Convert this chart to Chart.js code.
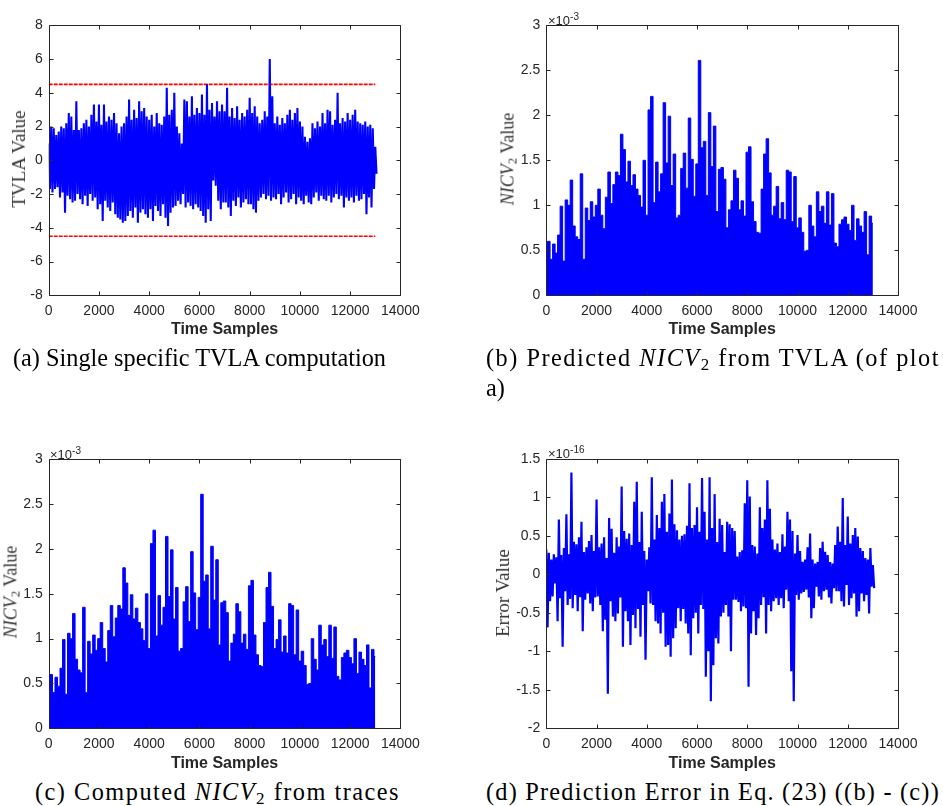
<!DOCTYPE html>
<html>
<head>
<meta charset="utf-8">
<script src="https://cdn.jsdelivr.net/npm/chart.js@4.4.1/dist/chart.umd.min.js"></script>
<style>
  body { margin: 0; background: #fff; width: 943px; height: 806px; position: relative; overflow: hidden; }
  canvas { position: absolute; }
  .ylab { position: absolute; transform: translate(-50%, -50%) rotate(-90deg); white-space: nowrap;
          font-family: 'Liberation Serif', serif; font-size: 19px; color: #333; }
  .mult { position: absolute; font-family: 'Liberation Sans', Arial, sans-serif; font-size: 13px; color: #262626; line-height: 13px; }
  .mult sup { font-size: 10px; vertical-align: 5px; }
  .cap { position: absolute; font-family: 'Liberation Serif', serif; font-size: 24.3px; line-height: 24px; color: #000; white-space: nowrap; }
  sub { font-size: 0.7em; vertical-align: -0.25em; line-height: 0; }
</style>
</head>
<body>
<canvas id="chartA" style="left:0px;top:0px;width:420px;height:345px" width="420" height="345"></canvas>
<canvas id="chartB" style="left:470px;top:0px;width:473px;height:345px" width="473" height="345"></canvas>
<canvas id="chartC" style="left:0px;top:430px;width:420px;height:345px" width="420" height="345"></canvas>
<canvas id="chartD" style="left:470px;top:430px;width:473px;height:345px" width="473" height="345"></canvas>

<div class="ylab" style="left:19px;top:159px">TVLA Value</div>
<div class="ylab" style="left:508px;top:159px;font-size:18px"><i>NICV</i><sub>2</sub> Value</div>
<div class="ylab" style="left:11px;top:592px;font-size:18px"><i>NICV</i><sub>2</sub> Value</div>
<div class="ylab" style="left:503px;top:593px">Error Value</div>

<div class="mult" style="left:548px;top:10px">×10<sup>-3</sup></div>
<div class="mult" style="left:50px;top:444px">×10<sup>-3</sup></div>
<div class="mult" style="left:548px;top:443px">×10<sup>-16</sup></div>

<div class="cap" data-w="373" style="left:13px;top:346px">(a) Single specific TVLA computation</div>
<div class="cap" data-w="454" style="left:486px;top:346px">(b) Predicted <i>NICV</i><sub>2</sub> from TVLA (of plot</div>
<div class="cap" style="left:486px;top:376px">a)</div>
<div class="cap" data-w="365" style="left:35px;top:780px">(c) Computed <i>NICV</i><sub>2</sub> from traces</div>
<div class="cap" data-w="454" style="left:486px;top:780px">(d) Prediction Error in Eq. (23) ((b) - (c))</div>

<script>
// one value every 100 time samples, 0 .. 13000
const SAMPLE_STEP = 100;

// (a) TVLA value: local peaks and troughs of the trace
const tvlaUpper = [
  1.0, 2.0, 1.9, 1.5, 1.7, 2.0, 1.9, 2.2, 2.8, 2.6,
  1.8, 3.5, 1.8, 1.9, 2.2, 2.4, 2.0, 2.7, 3.3, 2.3,
  3.3, 2.1, 3.3, 2.3, 2.6, 2.4, 2.8, 2.2, 1.6, 2.0,
  2.2, 2.6, 3.6, 2.4, 3.0, 2.5, 3.5, 2.9, 3.1, 2.6,
  2.4, 2.7, 2.0, 2.8, 2.2, 2.1, 2.6, 4.3, 2.7, 3.0,
  4.0, 2.0, 1.6, 1.0, 3.6, 3.5, 2.6, 3.8, 2.7, 3.1,
  2.8, 3.9, 2.7, 4.5, 3.0, 3.4, 2.6, 3.5, 2.9, 3.3,
  2.9, 4.3, 2.6, 3.1, 2.5, 3.2, 2.4, 2.8, 2.6, 3.0,
  3.7, 2.8, 3.2, 2.6, 2.2, 2.4, 2.9, 2.6, 6.0, 3.8,
  2.2, 2.6, 2.1, 2.5, 2.2, 2.7, 3.0, 2.4, 2.8, 3.1,
  2.3, 2.0, 1.4, 1.1, 1.3, 2.2, 1.9, 2.3, 2.0, 2.8,
  2.2, 3.0, 2.9, 2.1, 2.4, 4.0, 2.2, 2.5, 2.3, 2.8,
  2.4, 2.7, 3.0, 2.3, 2.2, 2.1, 2.3, 2.0, 2.1, 1.9, 0.8
];
const tvlaLower = [
  -1.7, -1.9, -1.7, -1.6, -2.2, -1.9, -3.1, -2.1, -2.3, -2.5,
  -2.4, -2.0, -2.3, -2.6, -2.1, -2.7, -2.0, -2.4, -2.2, -2.9,
  -2.6, -3.6, -2.4, -2.8, -3.0, -2.5, -3.2, -3.4, -3.5, -3.7,
  -3.6, -3.3, -3.0, -3.4, -2.8, -3.7, -3.1, -2.9, -3.2, -3.4,
  -2.9, -3.6, -2.7, -3.0, -3.3, -2.6, -3.4, -3.9, -3.1, -2.8,
  -2.7, -2.4, -2.6, -2.0, -2.8, -2.5, -2.7, -2.9, -2.6, -2.8,
  -3.0, -3.3, -3.7, -2.9, -3.6, -1.2, -1.5, -2.4, -2.9, -2.5,
  -2.5, -2.8, -3.3, -2.4, -2.7, -2.2, -2.8, -2.5, -2.3, -2.6,
  -2.6, -2.9, -3.1, -2.4, -2.2, -2.0, -2.3, -2.1, -2.4, -2.2,
  -2.3, -2.0, -2.6, -2.2, -1.9, -2.5, -2.3, -2.0, -2.6, -2.2,
  -2.4, -2.6, -2.1, -2.5, -2.6, -2.2, -1.9, -2.4, -2.1, -2.3,
  -2.4, -2.1, -2.5, -2.2, -2.0, -2.3, -2.1, -2.8, -2.2, -2.4,
  -2.2, -2.5, -2.1, -2.4, -2.3, -2.0, -3.2, -2.2, -2.8, -1.7, -0.8
];
const tvlaThreshold = 4.5;

// (b) and (c) NICV2 value (x10^-3); predicted and computed agree to ~1e-16
const nicvValues = [
  0.58, 0.60, 0.40, 0.57, 0.47, 0.67, 0.99, 0.38, 1.06, 1.00,
  1.28, 0.77, 0.65, 0.62, 1.35, 0.40, 0.97, 0.83, 1.04, 0.87,
  1.00, 1.18, 0.89, 0.74, 1.09, 1.37, 1.02, 1.23, 1.37, 1.33,
  1.79, 1.62, 1.26, 1.49, 1.22, 1.34, 1.18, 1.11, 0.98, 1.50,
  0.89, 2.06, 2.21, 1.03, 1.48, 1.15, 1.35, 2.14, 1.47, 1.99,
  1.22, 1.57, 0.86, 0.89, 1.41, 1.58, 1.19, 1.97, 1.51, 1.10,
  1.46, 2.61, 1.64, 1.71, 1.11, 2.03, 1.43, 1.88, 0.93, 1.40,
  1.42, 1.29, 0.75, 0.95, 1.05, 1.39, 1.30, 0.95, 1.05, 0.88,
  1.59, 1.65, 1.04, 0.82, 0.70, 0.69, 1.18, 1.57, 1.74, 1.36,
  0.89, 0.99, 1.21, 0.85, 1.03, 0.84, 1.39, 1.37, 0.82, 1.32,
  0.75, 0.86, 0.70, 0.49, 0.50, 1.00, 0.77, 0.65, 1.15, 0.93,
  0.99, 0.80, 1.15, 0.78, 1.13, 0.58, 0.54, 0.79, 0.84, 0.87,
  0.79, 0.72, 1.00, 0.61, 0.85, 0.77, 0.70, 0.93, 0.45, 0.88, 0.80
];

// (d) prediction error (x10^-16): local peaks and troughs
const errorUpper = [
  0.32, 0.28, 0.19, 0.26, 0.22, 0.71, 0.25, 0.34, 0.78, 0.26,
  1.32, 0.42, 0.39, 0.48, 0.68, 0.29, 0.35, 0.43, 0.51, 0.30,
  0.97, 0.35, 0.40, 0.48, 0.21, 0.73, 0.59, 0.28, 0.48, 0.36,
  1.14, 0.56, 0.46, 0.53, 0.38, 0.94, 1.20, 0.42, 0.81, 0.30,
  0.19, 0.35, 1.26, 0.45, 0.77, 0.60, 0.94, 1.04, 0.55, 0.79,
  1.23, 0.65, 0.57, 0.45, 0.50, 0.52, 0.63, 1.18, 0.60, 0.64,
  0.87, 0.55, 1.25, 0.81, 0.45, 1.26, 0.60, 1.04, 0.42, 0.72,
  0.64, 0.29, 0.68, 0.65, 0.60, 0.56, 0.23, 0.29, 0.31, 0.92,
  1.22, 1.01, 0.38, 0.36, 0.27, 0.87, 0.60, 0.71, 1.22, 0.85,
  0.45, 0.32, 0.40, 0.29, 0.52, 0.36, 0.81, 0.71, 0.56, 0.27,
  0.51, 0.30, 0.16, 0.19, 0.35, 0.53, 0.19, 0.14, 0.16, 0.34,
  0.42, 0.29, 0.25, 0.16, 0.14, 0.38, 0.62, 0.42, 0.99, 0.38,
  0.75, 0.40, 0.51, 0.60, 0.49, 0.34, 0.30, 0.21, 0.19, 0.34, 0.12
];
const errorLower = [
  -0.69, -0.35, -0.29, -0.12, -0.61, -0.31, -0.94, -0.22, -0.40, -0.32,
  -0.44, -0.27, -0.48, -0.30, -0.74, -0.33, -0.25, -0.38, -0.48, -0.30,
  -0.29, -0.40, -0.74, -0.59, -1.55, -0.35, -0.55, -0.61, -0.51, -0.30,
  -0.94, -0.48, -0.61, -0.92, -0.53, -0.70, -0.45, -0.81, -0.40, -1.11,
  -0.22, -0.38, -0.40, -0.61, -0.64, -0.77, -0.50, -0.94, -0.92, -1.07,
  -0.83, -0.70, -0.44, -0.61, -0.45, -0.64, -0.77, -1.05, -0.57, -0.50,
  -0.77, -0.40, -0.45, -1.33, -1.00, -1.65, -1.18, -0.83, -0.90, -0.55,
  -0.50, -0.40, -0.55, -1.00, -0.33, -0.33, -0.36, -0.48, -0.42, -0.44,
  -1.46, -0.77, -0.48, -0.79, -0.57, -0.40, -0.30, -0.77, -0.40, -0.48,
  -0.35, -0.31, -0.40, -0.31, -0.44, -0.20, -0.35, -1.26, -1.65, -0.27,
  -0.33, -0.25, -0.23, -0.20, -0.30, -0.57, -0.44, -0.16, -0.29, -0.33,
  -0.22, -0.20, -0.30, -0.38, -0.18, -0.22, -0.22, -0.35, -0.42, -0.14,
  -0.40, -0.31, -0.25, -0.55, -0.48, -0.25, -0.35, -0.27, -0.51, -0.16, -0.18
];

const BLUE = '#0000ff';
const AXIS = '#262626';

function series(values) {
  return values.map((v, i) => ({ x: i * SAMPLE_STEP, y: v }));
}

// peak, trough, peak, ... so the dense trace fills in like the original
function zigzag(upper, lower) {
  const pts = [];
  upper.forEach((u, i) => {
    pts.push({ x: i * SAMPLE_STEP, y: u });
    pts.push({ x: i * SAMPLE_STEP + SAMPLE_STEP / 2, y: lower[i] });
  });
  return pts;
}

// MATLAB style box with inward tick marks on all four sides
const boxTicks = {
  id: 'boxTicks',
  afterDraw(chart) {
    const { ctx, chartArea: a, scales: { x, y } } = chart;
    const L = Math.round(a.left) + 0.5, R = Math.round(a.right) + 0.5;
    const T = Math.round(a.top) + 0.5, B = Math.round(a.bottom) + 0.5;
    ctx.save();
    ctx.strokeStyle = AXIS;
    ctx.lineWidth = 1;
    ctx.beginPath();
    x.ticks.forEach(t => {
      const px = Math.round(x.getPixelForValue(t.value)) + 0.5;
      ctx.moveTo(px, B); ctx.lineTo(px, B - 4);
      ctx.moveTo(px, T); ctx.lineTo(px, T + 4);
    });
    y.ticks.forEach(t => {
      const py = Math.round(y.getPixelForValue(t.value)) + 0.5;
      ctx.moveTo(L, py); ctx.lineTo(L + 4, py);
      ctx.moveTo(R, py); ctx.lineTo(R - 4, py);
    });
    ctx.rect(L, T, R - L, B - T);
    ctx.stroke();
    ctx.restore();
  }
};

function makeChart(id, datasets, opt) {
  const canvas = document.getElementById(id);
  const w = canvas.width, h = canvas.height;
  const tickFont = { family: "'Liberation Sans', Arial, sans-serif", size: 14 };
  return new Chart(canvas, {
    type: 'line',
    data: { datasets },
    plugins: [boxTicks],
    options: {
      responsive: false,
      animation: false,
      events: [],
      layout: { padding: { left: 0, top: opt.top, right: w - opt.right, bottom: 0 } },
      elements: { point: { radius: 0 }, line: { tension: 0, borderJoinStyle: 'bevel' } },
      plugins: { legend: { display: false }, tooltip: { enabled: false } },
      scales: {
        x: {
          type: 'linear', min: 0, max: 14000,
          grid: { display: false, drawTicks: false },
          border: { display: false },
          ticks: { stepSize: 2000, padding: 7, color: AXIS, font: tickFont, maxRotation: 0, callback: v => String(v) },
          title: {
            display: true, text: 'Time Samples', color: AXIS,
            font: { family: "'Liberation Sans', Arial, sans-serif", size: 16, weight: 'bold' },
            padding: { top: 0, bottom: opt.titlePad }
          },
          afterFit(s) {
            s.height = h - opt.bottom;
            s.paddingLeft = s.paddingRight = s.paddingTop = s.paddingBottom = 0;
          }
        },
        y: {
          min: opt.yMin, max: opt.yMax,
          grid: { display: false, drawTicks: false },
          border: { display: false },
          ticks: { stepSize: opt.yStep, padding: 6, color: AXIS, font: tickFont, callback: v => String(v) },
          afterFit(s) {
            s.width = opt.left;
            s.paddingLeft = s.paddingRight = s.paddingTop = s.paddingBottom = 0;
          }
        }
      }
    }
  });
}

const lastSample = (tvlaUpper.length - 1) * SAMPLE_STEP;

// (a)
makeChart('chartA', [
  { data: zigzag(tvlaUpper, tvlaLower), borderColor: BLUE, borderWidth: 2.1, fill: false },
  { data: [{ x: 0, y: tvlaThreshold }, { x: lastSample, y: tvlaThreshold }],
    borderColor: '#ff0000', borderWidth: 1.6, borderDash: [4, 1], fill: false },
  { data: [{ x: 0, y: -tvlaThreshold }, { x: lastSample, y: -tvlaThreshold }],
    borderColor: '#ff0000', borderWidth: 1.6, borderDash: [4, 1], fill: false }
], { left: 48.7, right: 400.4, top: 25.3, bottom: 295.3, titlePad: 5.4, yMin: -8, yMax: 8, yStep: 2 });

// (b) predicted
makeChart('chartB', [
  { data: series(nicvValues), stepped: 'middle', borderColor: BLUE, backgroundColor: BLUE, borderWidth: 1, fill: 'origin' }
], { left: 76.3, right: 428, top: 25.3, bottom: 295.3, titlePad: 5.4, yMin: 0, yMax: 3, yStep: 0.5 });

// (c) computed
makeChart('chartC', [
  { data: series(nicvValues), stepped: 'middle', borderColor: BLUE, backgroundColor: BLUE, borderWidth: 1, fill: 'origin' }
], { left: 48.7, right: 400.4, top: 29.3, bottom: 298.3, titlePad: 2.1, yMin: 0, yMax: 3, yStep: 0.5 });

// (d) error
makeChart('chartD', [
  { data: zigzag(errorUpper, errorLower), borderColor: BLUE, borderWidth: 2.2, fill: false }
], { left: 76.3, right: 428, top: 28.7, bottom: 298.3, titlePad: 2.1, yMin: -2, yMax: 1.5, yStep: 0.5 });

// stretch each caption line to the width it has in the figure
document.querySelectorAll('.cap[data-w]').forEach(el => {
  const target = Number(el.dataset.w);
  const n = el.textContent.length;
  const extra = target - el.getBoundingClientRect().width;
  el.style.letterSpacing = (extra / n) + 'px';
});
</script>
</body>
</html>
